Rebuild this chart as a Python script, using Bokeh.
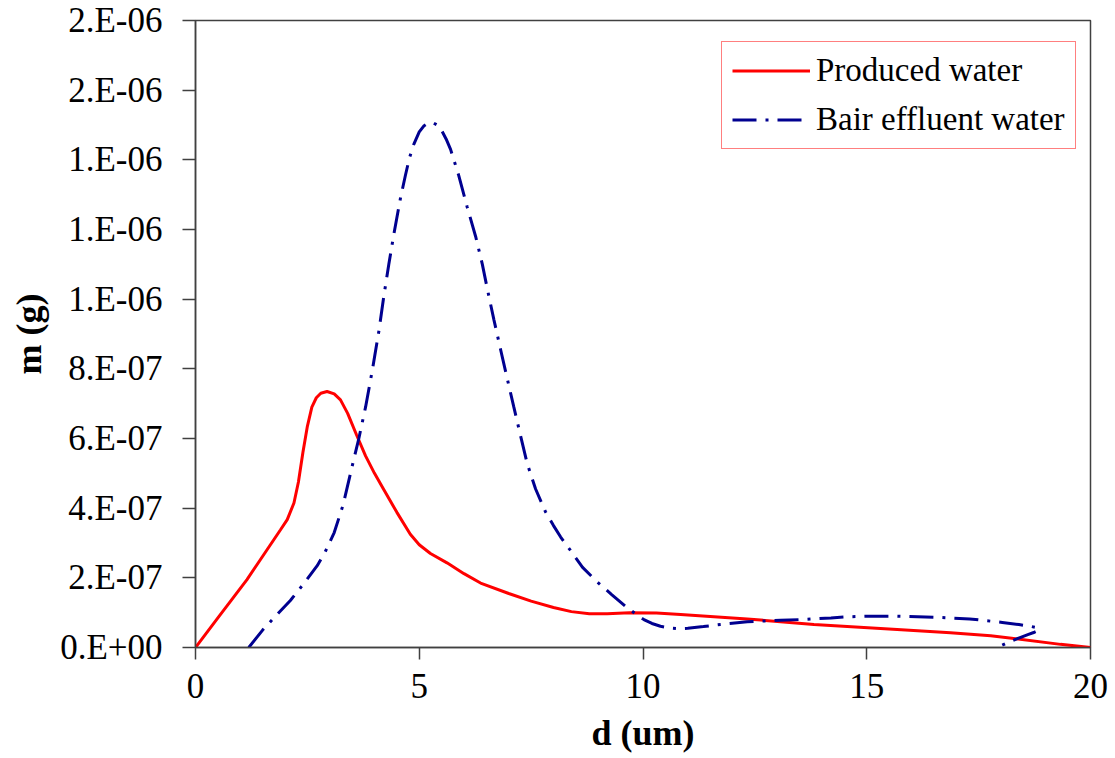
from bokeh.plotting import figure
from bokeh.models import Range1d, FixedTicker, CustomJSTickFormatter, Legend, LegendItem
from bokeh.embed import file_html
from bokeh.resources import INLINE

# Produced water
prod_d = [0, 0.5, 1.15, 1.9, 2.05, 2.2, 2.3, 2.4, 2.5, 2.6, 2.7, 2.8, 2.94, 3.1, 3.24, 3.4, 3.6,
          3.8, 4.0, 4.2, 4.5, 4.8, 5.0, 5.25, 5.62, 6.0, 6.37, 7.0, 7.5, 8.0, 8.4, 8.8, 9.2, 9.7, 10.3,
          10.84, 12.33, 13.82, 15.68, 16.87, 17.77, 19.33, 20.0]
prod_m = [0, 0.85e-7, 1.95e-7, 3.38e-7, 3.67e-7, 4.15e-7, 4.75e-7, 5.6e-7, 6.35e-7, 6.9e-7,
          7.17e-7, 7.3e-7, 7.35e-7, 7.28e-7, 7.11e-7, 6.72e-7, 6.1e-7, 5.5e-7, 5.0e-7, 4.55e-7,
          3.88e-7, 3.25e-7, 2.95e-7, 2.7e-7, 2.43e-7, 2.12e-7, 1.85e-7, 1.55e-7, 1.33e-7, 1.15e-7,
          1.03e-7, 0.97e-7, 0.97e-7, 1.0e-7, 0.99e-7, 0.95e-7, 0.82e-7, 0.66e-7, 0.52e-7, 0.42e-7,
          0.34e-7, 0.09e-7, 0]

# Bair effluent water
bair_d = [1.19, 1.5, 1.86, 2.12, 2.4, 2.72, 2.9, 3.1, 3.3, 3.5, 3.65, 3.8, 3.95, 4.1, 4.21, 4.32,
          4.43, 4.58, 4.69, 4.78, 4.88, 5.0, 5.1, 5.21, 5.3, 5.4, 5.51, 5.6, 5.7, 5.88, 6.07, 6.26,
          6.41, 6.52, 6.67, 6.82, 6.97, 7.11, 7.26, 7.41, 7.6, 7.82, 8.0, 8.16, 8.4, 8.65, 8.98,
          9.3, 9.65, 9.85, 10.02, 10.2, 10.39, 10.6, 10.8, 11.0, 11.35, 11.73, 12.33, 13.07, 13.67,
          14.2, 14.56, 15.01, 15.68, 16.5, 17.3, 18.03, 18.4, 18.65, 18.8, 18.85, 18.8, 18.73,
          18.6, 18.44, 18.2, 18.0, 17.95]
bair_m = [0, 0.5e-7, 1.0e-7, 1.35e-7, 1.8e-7, 2.35e-7, 2.75e-7, 3.3e-7, 4.1e-7, 5.2e-7, 6.0e-7,
          6.9e-7, 7.95e-7, 9.1e-7, 10.1e-7, 11.0e-7, 11.85e-7, 12.9e-7, 13.55e-7, 14.05e-7,
          14.45e-7, 14.8e-7, 14.97e-7, 15.06e-7, 15.07e-7, 15.0e-7, 14.82e-7, 14.6e-7, 14.3e-7,
          13.56e-7, 12.65e-7, 11.8e-7, 11.0e-7, 10.3e-7, 9.4e-7, 8.54e-7, 7.7e-7, 6.92e-7, 6.1e-7,
          5.29e-7, 4.55e-7, 3.9e-7, 3.5e-7, 3.17e-7, 2.75e-7, 2.3e-7, 1.88e-7, 1.52e-7, 1.14e-7,
          0.95e-7, 0.80e-7, 0.69e-7, 0.61e-7, 0.56e-7, 0.54e-7, 0.55e-7, 0.60e-7, 0.66e-7,
          0.74e-7, 0.78e-7, 0.81e-7, 0.85e-7, 0.88e-7, 0.90e-7, 0.90e-7, 0.87e-7, 0.82e-7,
          0.72e-7, 0.66e-7, 0.61e-7, 0.57e-7, 0.52e-7, 0.47e-7, 0.43e-7, 0.37e-7, 0.29e-7,
          0.17e-7, 0.05e-7, 0]

x_ticks = [0, 5, 10, 15, 20]
y_ticks = [0, 2e-7, 4e-7, 6e-7, 8e-7, 1.0e-6, 1.2e-6, 1.4e-6, 1.6e-6, 1.8e-6]
y_tick_labels = ["0.E+00", "2.E-07", "4.E-07", "6.E-07", "8.E-07", "1.E-06", "1.E-06", "1.E-06",
                 "2.E-06", "2.E-06"]

FONT = "Liberation Serif"
AX = "#404040"

p = figure(width=1110, height=755, output_backend="svg", toolbar_location=None,
           x_range=Range1d(0, 20), y_range=Range1d(0, 1.8e-6),
           min_border_left=195, min_border_right=20, min_border_top=20, min_border_bottom=107)

p.background_fill_color = "white"
p.border_fill_color = "white"
p.outline_line_color = AX
p.outline_line_width = 1.5
p.grid.visible = False

r1 = p.line(prod_d, prod_m, line_color="#FF0000", line_width=3)
r2 = p.line(bair_d, bair_m, line_color="#000090", line_width=3, line_dash="24 9 3 9")

for ax in (p.xaxis[0], p.yaxis[0]):
    ax.axis_line_color = AX
    ax.axis_line_width = 1.5
    ax.major_tick_line_color = AX
    ax.major_tick_line_width = 1.5
    ax.major_tick_in = 0
    ax.minor_tick_line_color = None
    ax.major_label_text_font = FONT
    ax.major_label_text_font_size = "35px"
    ax.major_label_text_color = "black"
    ax.axis_label_text_font = FONT
    ax.axis_label_text_font_size = "36px"
    ax.axis_label_text_font_style = "bold"
    ax.axis_label_text_color = "black"

p.xaxis.ticker = FixedTicker(ticks=x_ticks)
p.xaxis.major_tick_out = 12
p.xaxis.major_label_standoff = 14
p.xaxis.axis_label = "d (um)"
p.xaxis.axis_label_standoff = 12

p.yaxis.ticker = FixedTicker(ticks=y_ticks)
p.yaxis.formatter = CustomJSTickFormatter(args=dict(labels=y_tick_labels), code="return labels[index];")
p.yaxis.major_tick_out = 13
p.yaxis.major_label_standoff = 20
p.yaxis.axis_label = "m (g)"
p.yaxis.axis_label_standoff = 8

legend = Legend(items=[LegendItem(label="Produced water", renderers=[r1]),
                       LegendItem(label="Bair effluent water", renderers=[r2])],
                location=(526, 498))
legend.label_text_font = FONT
legend.label_text_font_size = "33px"
legend.label_text_color = "black"
legend.border_line_color = "#FF0000"
legend.border_line_width = 1.5
legend.background_fill_alpha = 1.0
legend.padding = 10
legend.spacing = 12
legend.glyph_width = 78
legend.glyph_height = 37
legend.label_height = 37
legend.label_standoff = 6
legend.margin = 0
p.add_layout(legend, "center")

open("out.html", "w").write(file_html(p, INLINE))
